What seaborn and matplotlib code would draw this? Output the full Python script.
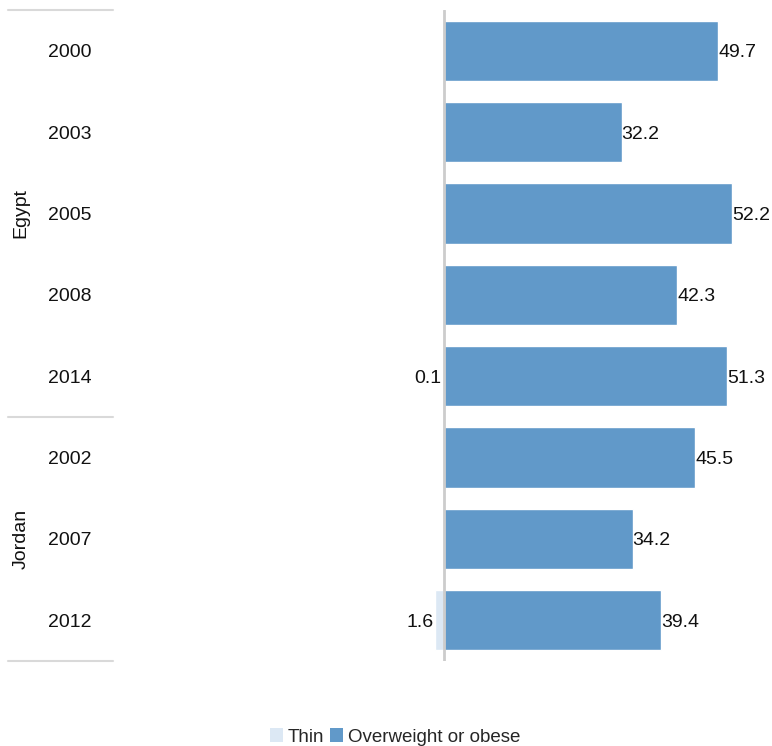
import matplotlib
matplotlib.use("Agg")
import matplotlib.pyplot as plt
from matplotlib.patches import Patch
import numpy as np
import pandas as pd
import seaborn as sns

# Survey rows (country, year)
countries = ["Egypt", "Egypt", "Egypt", "Egypt", "Egypt", "Jordan", "Jordan", "Jordan"]
years = ["2000", "2003", "2005", "2008", "2014", "2002", "2007", "2012"]

# Prevalence (%) among women
thin = [np.nan, np.nan, np.nan, np.nan, 0.1, np.nan, np.nan, 1.6]
overweight = [49.7, 32.2, 52.2, 42.3, 51.3, 45.5, 34.2, 39.4]

series_names = ["Thin", "Overweight or obese"]
colors = {"Thin": "#dce8f4", "Overweight or obese": "#6199c9"}

rows = [f"{c} {y}" for c, y in zip(countries, years)]
records = []
for r, t, o in zip(rows, thin, overweight):
    if not np.isnan(t):
        records.append({"row": r, "series": "Thin", "value": -t, "label": t})
    records.append({"row": r, "series": "Overweight or obese", "value": o, "label": o})
df = pd.DataFrame(records)

sns.set_style("white")
plt.rcParams["font.family"] = ["Liberation Sans", "DejaVu Sans"]

fig = plt.figure(figsize=(7.72, 7.46), dpi=100)
W, H = 772, 746
ax_left, ax_right, ax_top, ax_bottom = 113, 775, 10, 661
ax = fig.add_axes([ax_left / W, 1 - ax_bottom / H, (ax_right - ax_left) / W, (ax_bottom - ax_top) / H])

sns.barplot(data=df, y="row", x="value", hue="series", order=rows,
            hue_order=series_names, palette=colors, dodge=False,
            width=0.74, orient="h", ax=ax, legend=False, saturation=1)

ax.set_xlim(-60, 60)
ax.set_ylim(len(rows) - 0.5, -0.5)
ax.axvline(0, color="#cccccc", lw=2, zorder=3)
for s in ax.spines.values():
    s.set_visible(False)
ax.set_xticks([])
ax.set_yticks([])
ax.set_xlabel("")
ax.set_ylabel("")

fs = 14
for _, rec in df.iterrows():
    i = rows.index(rec["row"])
    if rec["value"] >= 0:
        ax.text(rec["value"], i, f"{rec['label']:.1f}", ha="left", va="center_baseline",
                fontsize=fs, color="#111111")
    else:
        ax.text(rec["value"] - 0.3, i, f"{rec['label']:.1f}", ha="right", va="center_baseline",
                fontsize=fs, color="#111111")

# Category axis drawn as text: years, country groups and separators
def ypix(i):
    return ax_top + (i + 0.5) * (ax_bottom - ax_top) / len(rows)

for i, y in enumerate(years):
    fig.text(70 / W, 1 - ypix(i) / H, y, ha="center", va="center_baseline", fontsize=fs, color="#111111")

groups = []
for i, c in enumerate(countries):
    if not groups or groups[-1][0] != c:
        groups.append([c, i, i])
    else:
        groups[-1][2] = i

for c, a, b in groups:
    yc = (ypix(a) + ypix(b)) / 2
    fig.text(21 / W, 1 - yc / H, c, ha="center", va="center", rotation=90, fontsize=fs, color="#111111")

bounds = [ax_top] + [ypix(b) + (ax_bottom - ax_top) / len(rows) / 2 for _, _, b in groups]
for yb in bounds:
    fig.add_artist(plt.Line2D([8 / W, 113 / W], [1 - yb / H, 1 - yb / H], color="#d9d9d9", lw=1.5))

handles = [Patch(facecolor=colors[s], edgecolor="none") for s in series_names]
fig.legend(handles, series_names, loc="center", bbox_to_anchor=(395 / W, 1 - 737 / H),
           ncol=2, frameon=False, fontsize=13.5, handlelength=0.7, handleheight=0.7,
           handletextpad=0.25, columnspacing=0.3)

fig.savefig("out.png", dpi=100)
